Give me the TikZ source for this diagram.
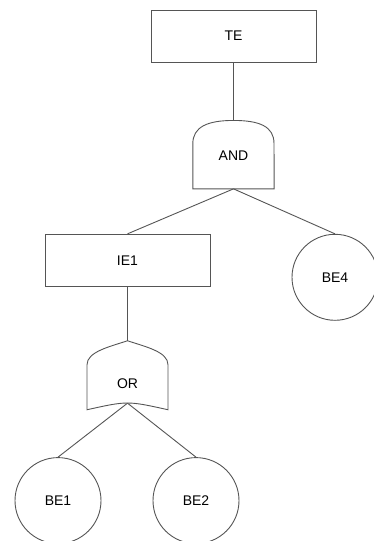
\documentclass[tikz,border=0pt]{standalone}
\usepackage{fontspec}
\setmainfont{Liberation Sans}
\definecolor{treegray}{RGB}{85,85,85}
\usetikzlibrary{positioning}

\begin{document}
\begin{tikzpicture}[
  x=1pt, y=-1pt,
  font=\fontsize{14}{16}\selectfont,
  evbox/.style={draw=treegray, line width=0.9pt, minimum width=165pt, minimum height=52pt, inner sep=0pt},
  basic/.style={draw=treegray, line width=0.9pt, circle, minimum size=86pt, inner sep=0pt},
  gatebox/.style={inner sep=0pt, minimum width=81pt},
  link/.style={treegray, line width=0.9pt}
]
\useasboundingbox (0,0) rectangle (373,541);
\node[evbox] (te) at (233.5,36) {TE};
\node[gatebox, text height=40pt, text depth=28pt, below=58pt of te] (andg) {AND};
\node[evbox, below=45pt of andg, xshift=-106pt] (ie1) {IE1};
\node[basic, below=45pt of andg, xshift=101.5pt] (be4) {BE4};
\node[gatebox, text height=48pt, text depth=14pt, below=54pt of ie1] (org) {OR};
\node[basic, below=54pt of org, xshift=-69.5pt] (be1) {BE1};
\node[basic, below=54pt of org, xshift=68.5pt] (be2) {BE2};
% gate outlines
\draw[link] (andg.south west) -- ++(0,-45) .. controls +(0,-17) and +(-26,0) .. (andg.north)
  .. controls +(26,0) and +(0,-17) .. ++(40.5,23) -- (andg.south east) -- cycle;
\draw[link] (org.north) .. controls +(18,6) and +(0,-13) .. ++(40.5,24) -- ++(0,45)
  .. controls +(-40.5,-9) .. ++(-81,0) -- ++(0,-45) .. controls +(0,-13) and +(-18,6) .. (org.north);
% connections
\draw[link] (te.south) -- (andg.north);
\draw[link] (andg.south) -- (ie1.north);
\draw[link] (andg.south) -- (be4.north);
\draw[link] (ie1.south) -- (org.north);
\draw[link] (org.south) -- (be1.north);
\draw[link] (org.south) -- (be2.north);
\end{tikzpicture}
\end{document}
